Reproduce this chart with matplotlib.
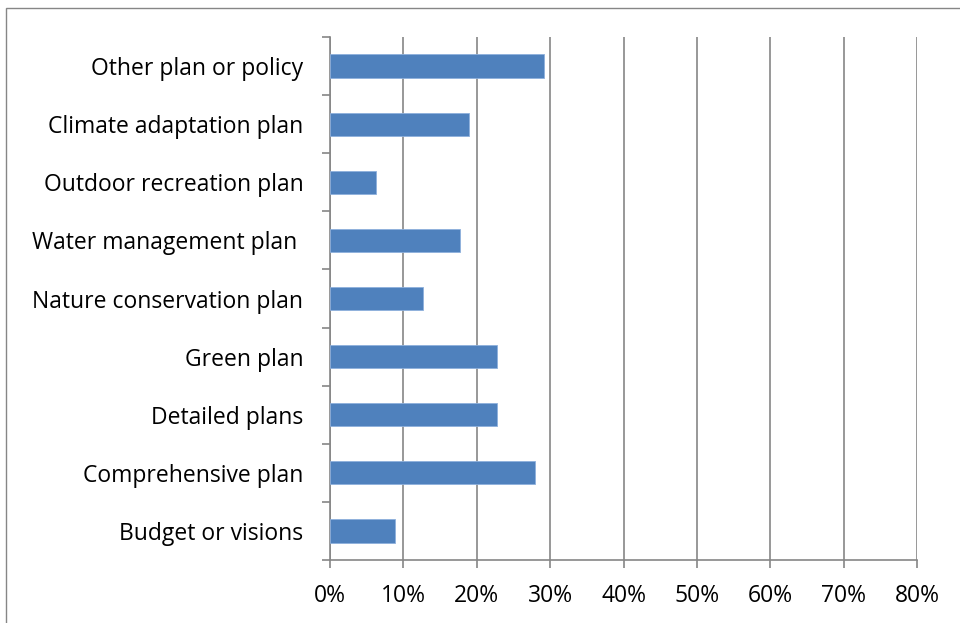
import matplotlib
matplotlib.use("Agg")
import matplotlib.pyplot as plt
from matplotlib.patches import Rectangle
import numpy as np

categories = ["Budget or visions", "Comprehensive plan", "Detailed plans", "Green plan",
              "Nature conservation plan", "Water management plan ", "Outdoor recreation plan",
              "Climate adaptation plan", "Other plan or policy"]
values = [8.9, 27.9, 22.8, 22.8, 12.7, 17.7, 6.3, 19.0, 29.2]
xticks = [0, 10, 20, 30, 40, 50, 60, 70, 80]
xtick_labels = ["0%", "10%", "20%", "30%", "40%", "50%", "60%", "70%", "80%"]

plt.rcParams['font.family'] = ['Open Sans', 'DejaVu Sans']

fig = plt.figure(figsize=(9.6, 6.23), dpi=100)
ax = fig.add_axes([329.7/960, 1-560/623, (917.3-329.7)/960, (560-37)/623])

y = np.arange(len(categories))
ax.barh(y, values, height=0.4, color="#4F81BD", edgecolor="#8eb0dc", linewidth=0.6, zorder=3)

ax.set_xlim(0, 80)
ax.set_ylim(-0.5, len(categories) - 0.5)
ax.set_xticks(xticks)
ax.set_xticklabels(xtick_labels, fontsize=16.5)
ax.set_yticks(y)
ax.set_yticklabels(categories, fontsize=16.5)
ax.set_yticks(np.arange(-0.5, len(categories), 1.0), minor=True)

ax.tick_params(axis='y', which='major', length=0, pad=19)
ax.tick_params(axis='y', which='minor', length=6, width=1.2, color="#868686", direction='out')
ax.tick_params(axis='x', which='major', length=6, width=1.2, color="#868686", direction='out', pad=11.5)

ax.grid(axis='x', color="#868686", linewidth=1.2, zorder=0)
for s in ['top', 'right']:
    ax.spines[s].set_visible(False)
for s in ['left', 'bottom']:
    ax.spines[s].set_color("#868686")
    ax.spines[s].set_linewidth(1.2)

# outer chart border (partially cropped)
fig.patches.append(Rectangle((5.5/960, -0.1), 1.2, 1.1 - 8.5/623, transform=fig.transFigure,
                             fill=False, edgecolor="#868686", linewidth=1.0))

fig.savefig("out.png", dpi=100)
